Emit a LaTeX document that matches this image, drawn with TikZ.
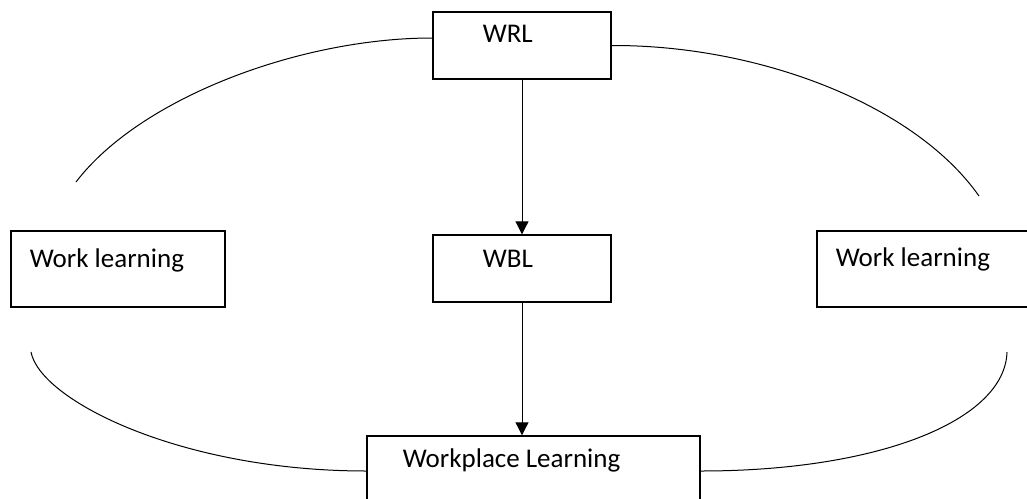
\documentclass[tikz,border=0pt]{standalone}
\usepackage{fontspec}
\setmainfont{Carlito}
\usetikzlibrary{arrows.meta}
\begin{document}
\begin{tikzpicture}[x=0.5pt,y=-0.5pt,line width=0.5pt,
  box/.style={draw,line width=0.7pt,inner sep=0pt},
  txt/.style={anchor=base west,inner sep=0pt,font=\fontsize{13.5}{16}\selectfont},
  link/.style={-{Triangle[length=6.5pt,width=6.5pt]}}]
\useasboundingbox (0,0) rectangle (1027,498);
\node[box,minimum width=89pt,minimum height=33.5pt,label={[txt,xshift=25pt,yshift=-15.5pt]north west:WRL}] (wrl) at (522,45.5) {};
\node[box,minimum width=89pt,minimum height=33.5pt,label={[txt,xshift=25pt,yshift=-16.5pt]north west:WBL}] (wbl) at (522,268.5) {};
\node[box,minimum width=107pt,minimum height=38pt,label={[txt,xshift=9.5pt,yshift=-18.5pt]north west:Work learning}] (wleft) at (118,269) {};
\node[box,minimum width=107pt,minimum height=38pt,label={[txt,xshift=9.5pt,yshift=-18pt]north west:Work learning}] (wright) at (924,269) {};
\node[box,minimum width=166.5pt,minimum height=38pt,label={[txt,xshift=18pt,yshift=-16pt]north west:Workplace Learning}] (wpl) at (533.5,474) {};
\draw[link] (wrl) -- (wbl);
\draw[link] (wbl.south) -- (wbl.south |- wpl.north);
\coordinate (tl) at (76,182);
\coordinate (tr) at (979,196);
\coordinate (bl) at (31,352);
\coordinate (br) at (1007,352);
\draw (tl) .. controls (140,98) and (300,38) .. ([yshift=3.75pt]wrl.west);
\draw (wrl.east) .. controls (760,45) and (915,105) .. (tr);
\draw (bl) .. controls (40,400) and (180,471) .. ([yshift=1.5pt]wpl.west);
\draw (br) .. controls (1005,420) and (880,471) .. ([yshift=1.5pt]wpl.east);
\end{tikzpicture}
\end{document}
